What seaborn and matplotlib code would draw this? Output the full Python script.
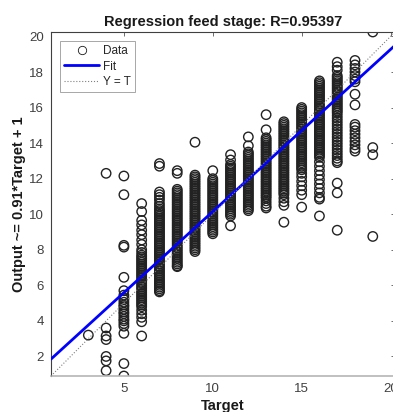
import matplotlib
matplotlib.use("Agg")
import matplotlib.pyplot as plt
from matplotlib.lines import Line2D
import numpy as np
import pandas as pd
import seaborn as sns

# ---- network outputs grouped by target value ----
out_t3 = [3.2]
out_t4 = [12.3, 3.6, 3.15, 2.95, 2.0, 1.75, 1.2]
out_t5 = [12.15, 11.1, 8.25, 8.15, 6.45, 5.7,
          5.45, 5.3, 5.2, 5.05, 4.9, 4.8, 4.65, 4.5, 4.4, 4.25, 4.1, 4.0, 3.85, 3.7,
          3.3, 1.6, 0.9]
out_t6 = [10.6, 10.15, 9.65, 9.4, 9.1, 8.85, 8.55, 8.3, 8.0, 7.85,
          7.7, 7.6, 7.5, 7.4, 7.3, 7.2, 7.1, 7.0, 6.9, 6.8, 6.7, 6.6, 6.5, 6.4, 6.3,
          6.2, 6.1, 6.0, 5.9, 5.8, 5.7, 5.6, 5.5, 5.4, 5.3, 5.2, 5.1, 5.0, 4.9, 4.8,
          4.6, 4.4, 4.2, 3.95, 3.15]
out_t7 = [12.85, 12.7, 11.25, 11.1, 10.95, 10.8, 10.6, 10.45, 10.3,
          10.2, 10.1, 10.0, 9.9, 9.8, 9.7, 9.6, 9.5, 9.4, 9.3, 9.2, 9.1, 9.0, 8.9,
          8.8, 8.7, 8.6, 8.5, 8.4, 8.3, 8.2, 8.1, 8.0, 7.9, 7.8, 7.7, 7.6, 7.5, 7.4,
          7.3, 7.2, 7.1, 7.0, 6.9, 6.8, 6.7, 6.6, 6.5, 6.4, 6.3, 6.2, 6.1, 6.0, 5.9,
          5.8, 5.7, 5.63]
out_t8 = [12.45, 12.3,
          11.4, 11.3, 11.2, 11.1, 11.0, 10.9, 10.8, 10.7, 10.6, 10.5, 10.4, 10.3,
          10.2, 10.1, 10.0, 9.9, 9.8, 9.7, 9.6, 9.5, 9.4, 9.3, 9.2, 9.1, 9.0, 8.9,
          8.8, 8.7, 8.6, 8.5, 8.4, 8.3, 8.2, 8.1, 8.0, 7.9, 7.8, 7.7, 7.6, 7.5, 7.4,
          7.3, 7.2, 7.1, 7.05]
out_t9 = [14.05,
          12.2, 12.1, 12.0, 11.9, 11.8, 11.7, 11.6, 11.5, 11.4, 11.3, 11.2, 11.1,
          11.0, 10.9, 10.8, 10.7, 10.6, 10.5, 10.4, 10.3, 10.2, 10.1, 10.0, 9.9, 9.8,
          9.7, 9.6, 9.5, 9.4, 9.3, 9.2, 9.1, 9.0, 8.9, 8.8, 8.7, 8.6, 8.5, 8.4, 8.3,
          8.2, 8.1, 8.0, 7.9]
out_t10 = [12.45,
           12.0, 11.9, 11.8, 11.7, 11.6, 11.5, 11.4, 11.3, 11.2, 11.1, 11.0, 10.9,
           10.8, 10.7, 10.6, 10.5, 10.4, 10.3, 10.2, 10.1, 10.0, 9.9, 9.8, 9.7, 9.6,
           9.5, 9.4, 9.3, 9.2, 9.1, 9.0, 8.9]
out_t11 = [13.35, 13.05,
           12.8, 12.7, 12.6, 12.5, 12.4, 12.3, 12.2, 12.1, 12.0, 11.9, 11.8, 11.7,
           11.6, 11.5, 11.4, 11.3, 11.2, 11.1, 11.0, 10.9, 10.8, 10.7, 10.6, 10.5,
           10.4, 10.3, 10.2, 10.1, 10.0, 9.9, 9.35]
out_t12 = [14.35, 13.85,
           13.5, 13.4, 13.3, 13.2, 13.1, 13.0, 12.9, 12.8, 12.7, 12.6, 12.5, 12.4,
           12.3, 12.2, 12.1, 12.0, 11.9, 11.8, 11.7, 11.6, 11.5, 11.4, 11.3, 11.2,
           11.1, 11.0, 10.9, 10.8, 10.7, 10.6, 10.5, 10.4, 10.3, 10.2]
out_t13 = [15.6, 14.75,
           14.3, 14.2, 14.1, 14.0, 13.9, 13.8, 13.7, 13.6, 13.5, 13.4, 13.3, 13.2,
           13.1, 13.0, 12.9, 12.8, 12.7, 12.6, 12.5, 12.4, 12.3, 12.2, 12.1, 12.0,
           11.9, 11.8, 11.7, 11.6, 11.5, 11.4, 11.3, 11.2, 11.1, 11.0, 10.9,
           10.75, 10.6, 10.45, 10.35]
out_t14 = [15.2, 15.1, 15.0, 14.9, 14.8, 14.7, 14.6, 14.5, 14.4, 14.3, 14.2, 14.1,
           14.0, 13.9, 13.8, 13.7, 13.6, 13.5, 13.4, 13.3, 13.2, 13.1, 13.0, 12.9,
           12.8, 12.7, 12.6, 12.5, 12.4, 12.3, 12.2, 12.1, 12.0, 11.9, 11.8, 11.7,
           11.6, 11.5, 11.4, 11.3, 11.2, 11.1, 10.9, 10.7, 10.5, 9.55]
out_t15 = [16.0, 15.9, 15.8, 15.7, 15.6, 15.5, 15.4, 15.3, 15.2, 15.1, 15.0, 14.9,
           14.8, 14.7, 14.6, 14.5, 14.4, 14.3, 14.2, 14.1, 14.0, 13.9, 13.8, 13.7,
           13.6, 13.5, 13.4, 13.3, 13.2, 13.1, 13.0, 12.9, 12.8, 12.7, 12.6, 12.5,
           12.3, 12.1, 11.85, 11.6, 11.35, 11.1, 10.4]
out_t16 = [17.5, 17.4, 17.3, 17.2, 17.1, 17.0, 16.9, 16.8, 16.7, 16.6, 16.5, 16.4,
           16.3, 16.2, 16.1, 16.0, 15.9, 15.8, 15.7, 15.6, 15.5, 15.4, 15.3, 15.2,
           15.1, 15.0, 14.9, 14.8, 14.7, 14.6, 14.5, 14.4, 14.3, 14.2, 14.1, 14.0,
           13.9, 13.8, 13.7, 13.6, 13.5, 13.4, 13.3, 13.2,
           12.95, 12.7, 12.45, 12.2, 11.95, 11.7, 11.45, 11.2, 10.95, 10.85, 9.9]
out_t17 = [18.55, 18.3, 18.1,
           17.8, 17.7, 17.6, 17.5, 17.4, 17.3, 17.2, 17.1, 17.0, 16.9, 16.8, 16.7,
           16.6, 16.5, 16.4, 16.3, 16.2, 16.1, 16.0, 15.9, 15.8, 15.7,
           15.55, 15.4, 15.25, 15.1, 14.95, 14.8, 14.65, 14.5, 14.35, 14.2, 14.05,
           13.9, 13.75, 13.6, 13.45, 13.3, 13.15, 13.0, 12.9,
           11.75, 11.2, 9.1]
out_t18 = [18.65, 18.4, 18.2, 18.0, 17.8, 17.6, 17.45, 16.75, 16.15, 15.05, 14.9,
           14.7, 14.5, 14.3, 14.1, 13.9, 13.7, 13.55]
out_t19 = [20.25, 13.75, 13.35, 8.75]

target_values = list(range(3, 20))
outputs_by_target = [out_t3, out_t4, out_t5, out_t6, out_t7, out_t8, out_t9,
                     out_t10, out_t11, out_t12, out_t13, out_t14, out_t15,
                     out_t16, out_t17, out_t18, out_t19]

# linear fit Output ~= a*Target + b and correlation
fit_slope = 0.912
fit_intercept = 1.03
r_value = 0.95397

x_ticks = [5, 10, 15, 20]
y_ticks = [2, 4, 6, 8, 10, 12, 14, 16, 18, 20]

df = pd.DataFrame({
    "Target": np.concatenate([[t] * len(v) for t, v in zip(target_values, outputs_by_target)]).astype(float),
    "Output": np.concatenate([np.asarray(v, float) for v in outputs_by_target]),
})

sns.set_style("white")
plt.rcParams["font.family"] = ["Liberation Sans", "DejaVu Sans"]

fig = plt.figure(figsize=(3.93, 4.12), dpi=100)
ax = fig.add_axes([51 / 393, 36 / 412, 344 / 393, 344 / 412])

lo = min(df["Target"].min(), df["Output"].min())
hi = max(df["Target"].max(), df["Output"].max())

sns.scatterplot(data=df, x="Target", y="Output", ax=ax, marker="o",
                facecolors="none", edgecolor="#222222", linewidth=1.0, s=46,
                legend=False, zorder=2)

line_x = np.array([lo, hi])
sns.lineplot(x=line_x, y=fit_slope * line_x + fit_intercept, ax=ax,
             color="#0000ff", linewidth=2.0, zorder=3)
ax.plot(line_x, line_x, linestyle=":", color="#808080", linewidth=0.8, zorder=3)

ax.set_xlim(lo, hi)
ax.set_ylim(lo, hi)
ax.set_xticks(x_ticks)
ax.set_yticks(y_ticks)
ax.tick_params(direction="in", top=True, right=True, length=3, width=0.6,
               colors="#555555", labelcolor="#404040", labelsize=9.5, pad=5)

for side in ["left", "top", "right"]:
    ax.spines[side].set_color("#404040")
    ax.spines[side].set_linewidth(0.8)
ax.spines["bottom"].set_color("#b5b5b5")
ax.spines["bottom"].set_linewidth(1.2)

ax.set_title(f"Regression feed stage: R={r_value}", fontsize=10.5,
             fontweight="bold", color="#1a1a1a", pad=4)
ax.set_xlabel("Target", fontsize=10.5, fontweight="bold", color="#1a1a1a", labelpad=3)
ax.set_ylabel(f"Output ~= {fit_slope:.2g}*Target + {fit_intercept:.2g}", fontsize=10.5,
              fontweight="bold", color="#1a1a1a", labelpad=2)

handles = [
    Line2D([], [], linestyle="none", marker="o", markerfacecolor="none",
           markeredgecolor="#1a1a1a", markersize=6, markeredgewidth=0.6),
    Line2D([], [], color="#0000ff", linewidth=2.0),
    Line2D([], [], color="#808080", linestyle=":", linewidth=0.8),
]
leg = ax.legend(handles, ["Data", "Fit", "Y = T"], loc="upper left", fontsize=8.5,
                frameon=True, fancybox=False, framealpha=1, edgecolor="#999999",
                handlelength=3.0, handletextpad=0.3, borderaxespad=0.75,
                labelspacing=0.3, borderpad=0.35)
leg.get_frame().set_linewidth(0.6)

fig.savefig("out.png", dpi=100)
